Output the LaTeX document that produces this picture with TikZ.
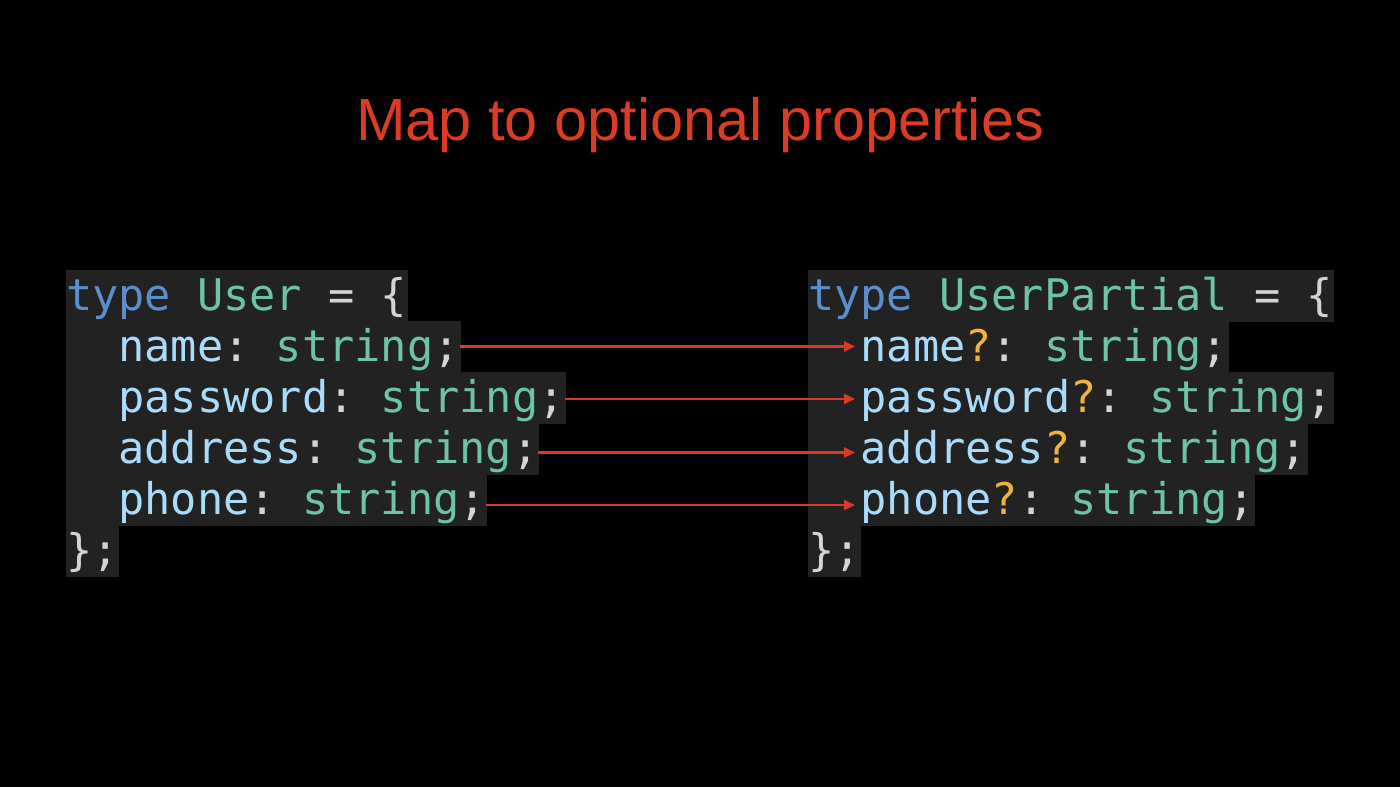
\documentclass[tikz,border=0pt]{standalone}
\usepackage{fontspec}
\setmainfont{Liberation Sans}
\newfontfamily\codefont{DejaVu Sans Mono}
\usetikzlibrary{arrows.meta,positioning}
\definecolor{codebg}{HTML}{222222}
\definecolor{kwblue}{HTML}{5A8FCF}
\definecolor{tyteal}{HTML}{6CC3A5}
\definecolor{propblue}{HTML}{A9DCFC}
\definecolor{punct}{HTML}{D4D4D4}
\definecolor{optorange}{HTML}{F0B43C}
\definecolor{titlered}{HTML}{DC3B26}
\definecolor{arrowred}{HTML}{D63B2A}
\tikzset{
  codeline/.style={fill=codebg, draw=codebg, line width=0.4pt, inner sep=0pt, outer sep=0pt,
    text height=40pt, text depth=11pt, anchor=north west, text=punct,
    font=\codefont\fontsize{43.6}{51}\selectfont\frenchspacing},
  slidetitle/.style={anchor=base, text=titlered, font=\fontsize{59.5}{70}\selectfont},
  maparrow/.style={draw=arrowred, line width=2.6pt, -{Triangle[length=11pt,width=10pt]}},
}
\newcommand\kwd[1]{\textcolor{kwblue}{#1}}
\newcommand\tyname[1]{\textcolor{tyteal}{#1}}
\newcommand\propname[1]{\textcolor{propblue}{#1}}
\newcommand\optmark{\textcolor{optorange}{?}}
\newcommand\codeind{\phantom{xx}}
\begin{document}
\begin{tikzpicture}[x=1pt,y=-1pt]
\fill[black] (0,0) rectangle (1400,787);
\node[slidetitle] (title) at (700,140) {Map to optional properties};
% source type
\node[codeline] (l1) at (66,270) {\kwd{type} \tyname{User} = \{};
\node[codeline] (l2) at (l1.south west) {\codeind\propname{name}: \tyname{string};};
\node[codeline] (l3) at (l2.south west) {\codeind\propname{password}: \tyname{string};};
\node[codeline] (l4) at (l3.south west) {\codeind\propname{address}: \tyname{string};};
\node[codeline] (l5) at (l4.south west) {\codeind\propname{phone}: \tyname{string};};
\node[codeline] (l6) at (l5.south west) {\};};
% mapped type
\node[codeline] (r1) at (808,270) {\kwd{type} \tyname{UserPartial} = \{};
\node[codeline] (r2) at (r1.south west) {\codeind\propname{name}\optmark: \tyname{string};};
\node[codeline] (r3) at (r2.south west) {\codeind\propname{password}\optmark: \tyname{string};};
\node[codeline] (r4) at (r3.south west) {\codeind\propname{address}\optmark: \tyname{string};};
\node[codeline] (r5) at (r4.south west) {\codeind\propname{phone}\optmark: \tyname{string};};
\node[codeline] (r6) at (r5.south west) {\};};
% arrows
\draw[maparrow] (l2.east) -- ([xshift=47pt]r2.west);
\draw[maparrow] ([yshift=-1.5pt]l3.east) -- ([xshift=47pt,yshift=-1.5pt]r3.west);
\draw[maparrow] ([yshift=-4pt]l4.east) -- ([xshift=47pt,yshift=-4pt]r4.west);
\draw[maparrow] ([yshift=-5.5pt]l5.east) -- ([xshift=47pt,yshift=-5.5pt]r5.west);
\end{tikzpicture}
\end{document}
